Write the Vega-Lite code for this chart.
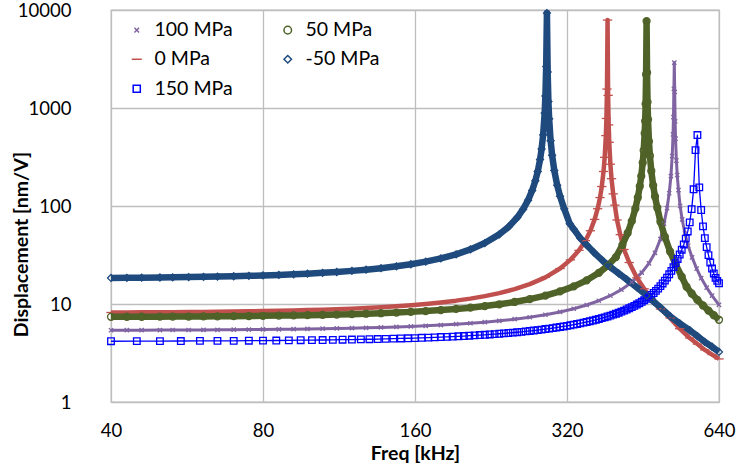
{
"$schema": "https://vega.github.io/schema/vega-lite/v6.json",
"width": 608, "height": 392,
"autosize": {"type": "none"},
"padding": {"left": 111, "top": 10, "right": 19, "bottom": 65},
"background": "white",
"data": {"values": [
{"p":"100 MPa","f":40,"d":5.4},{"p":"100 MPa","f":43,"d":5.41},{"p":"100 MPa","f":46,"d":5.41},{"p":"100 MPa","f":50,"d":5.42},{"p":"100 MPa","f":53,"d":5.43},{"p":"100 MPa","f":57,"d":5.43},{"p":"100 MPa","f":61,"d":5.44},{"p":"100 MPa","f":65,"d":5.45},{"p":"100 MPa","f":70,"d":5.47},{"p":"100 MPa","f":75,"d":5.48},{"p":"100 MPa","f":80,"d":5.5},{"p":"100 MPa","f":86,"d":5.52},{"p":"100 MPa","f":92,"d":5.54},{"p":"100 MPa","f":98,"d":5.57},{"p":"100 MPa","f":105,"d":5.6},{"p":"100 MPa","f":112,"d":5.63},{"p":"100 MPa","f":120,"d":5.67},{"p":"100 MPa","f":128,"d":5.71},{"p":"100 MPa","f":137,"d":5.77},{"p":"100 MPa","f":147,"d":5.83},{"p":"100 MPa","f":157,"d":5.9},{"p":"100 MPa","f":168,"d":5.99},{"p":"100 MPa","f":180,"d":6.09},{"p":"100 MPa","f":193,"d":6.22},{"p":"100 MPa","f":206,"d":6.36},{"p":"100 MPa","f":220,"d":6.53},{"p":"100 MPa","f":235,"d":6.73},{"p":"100 MPa","f":252,"d":7.0},{"p":"100 MPa","f":270,"d":7.33},{"p":"100 MPa","f":290,"d":7.77},{"p":"100 MPa","f":310,"d":8.3},{"p":"100 MPa","f":330,"d":8.95},{"p":"100 MPa","f":350,"d":9.76},{"p":"100 MPa","f":370,"d":10.8},{"p":"100 MPa","f":390,"d":12.15},{"p":"100 MPa","f":410,"d":14.0},{"p":"100 MPa","f":430,"d":16.7},{"p":"100 MPa","f":450,"d":20.9},{"p":"100 MPa","f":465,"d":26.0},{"p":"100 MPa","f":478,"d":33.3},{"p":"100 MPa","f":490,"d":46},{"p":"100 MPa","f":498,"d":66},{"p":"100 MPa","f":505,"d":95},{"p":"100 MPa","f":510,"d":135},{"p":"100 MPa","f":514,"d":202},{"p":"100 MPa","f":517,"d":324},{"p":"100 MPa","f":519,"d":538},{"p":"100 MPa","f":520,"d":807},{"p":"100 MPa","f":521,"d":1570},{"p":"100 MPa","f":522,"d":2900},{"p":"100 MPa","f":523,"d":1460},{"p":"100 MPa","f":524,"d":730},{"p":"100 MPa","f":525,"d":486},{"p":"100 MPa","f":527,"d":291},{"p":"100 MPa","f":529,"d":207},{"p":"100 MPa","f":532,"d":145},{"p":"100 MPa","f":536,"d":100},{"p":"100 MPa","f":541,"d":73},{"p":"100 MPa","f":548,"d":52.4},{"p":"100 MPa","f":556,"d":39.4},{"p":"100 MPa","f":566,"d":29.9},{"p":"100 MPa","f":578,"d":23},{"p":"100 MPa","f":590,"d":18.4},{"p":"100 MPa","f":605,"d":14.7},{"p":"100 MPa","f":620,"d":12.2},{"p":"100 MPa","f":640,"d":9.8},
{"p":"0 MPa","f":40,"d":8.19},{"p":"0 MPa","f":43,"d":8.2},{"p":"0 MPa","f":46,"d":8.22},{"p":"0 MPa","f":50,"d":8.24},{"p":"0 MPa","f":53,"d":8.26},{"p":"0 MPa","f":57,"d":8.28},{"p":"0 MPa","f":61,"d":8.31},{"p":"0 MPa","f":65,"d":8.34},{"p":"0 MPa","f":70,"d":8.38},{"p":"0 MPa","f":75,"d":8.42},{"p":"0 MPa","f":80,"d":8.47},{"p":"0 MPa","f":86,"d":8.53},{"p":"0 MPa","f":92,"d":8.59},{"p":"0 MPa","f":98,"d":8.66},{"p":"0 MPa","f":105,"d":8.75},{"p":"0 MPa","f":112,"d":8.85},{"p":"0 MPa","f":120,"d":8.97},{"p":"0 MPa","f":128,"d":9.11},{"p":"0 MPa","f":137,"d":9.27},{"p":"0 MPa","f":147,"d":9.48},{"p":"0 MPa","f":157,"d":9.72},{"p":"0 MPa","f":168,"d":10.0},{"p":"0 MPa","f":180,"d":10.37},{"p":"0 MPa","f":193,"d":10.82},{"p":"0 MPa","f":206,"d":11.35},{"p":"0 MPa","f":220,"d":12.03},{"p":"0 MPa","f":235,"d":12.91},{"p":"0 MPa","f":252,"d":14.17},{"p":"0 MPa","f":270,"d":15.94},{"p":"0 MPa","f":290,"d":18.72},{"p":"0 MPa","f":310,"d":23.0},{"p":"0 MPa","f":325,"d":28.2},{"p":"0 MPa","f":338,"d":35.3},{"p":"0 MPa","f":348,"d":44.3},{"p":"0 MPa","f":356,"d":55.9},{"p":"0 MPa","f":363,"d":73},{"p":"0 MPa","f":368,"d":93.8},{"p":"0 MPa","f":372,"d":122},{"p":"0 MPa","f":375,"d":158},{"p":"0 MPa","f":378,"d":225},{"p":"0 MPa","f":380,"d":314},{"p":"0 MPa","f":382,"d":523},{"p":"0 MPa","f":383,"d":782},{"p":"0 MPa","f":384,"d":1561},{"p":"0 MPa","f":385,"d":7900},{"p":"0 MPa","f":386,"d":1346},{"p":"0 MPa","f":387,"d":672},{"p":"0 MPa","f":388,"d":447},{"p":"0 MPa","f":390,"d":267},{"p":"0 MPa","f":392,"d":190},{"p":"0 MPa","f":395,"d":133},{"p":"0 MPa","f":398,"d":102},{"p":"0 MPa","f":402,"d":72},{"p":"0 MPa","f":408,"d":51},{"p":"0 MPa","f":415,"d":36},{"p":"0 MPa","f":425,"d":26.5},{"p":"0 MPa","f":440,"d":18.5},{"p":"0 MPa","f":455,"d":14.3},{"p":"0 MPa","f":470,"d":11.2},{"p":"0 MPa","f":490,"d":8.9},{"p":"0 MPa","f":512,"d":7.2},{"p":"0 MPa","f":535,"d":5.6},{"p":"0 MPa","f":560,"d":4.5},{"p":"0 MPa","f":580,"d":3.9},{"p":"0 MPa","f":600,"d":3.4},{"p":"0 MPa","f":620,"d":3.05},{"p":"0 MPa","f":640,"d":2.75},
{"p":"50 MPa","f":40,"d":7.4},{"p":"50 MPa","f":43,"d":7.41},{"p":"50 MPa","f":46,"d":7.41},{"p":"50 MPa","f":50,"d":7.43},{"p":"50 MPa","f":53,"d":7.44},{"p":"50 MPa","f":57,"d":7.45},{"p":"50 MPa","f":61,"d":7.47},{"p":"50 MPa","f":65,"d":7.49},{"p":"50 MPa","f":70,"d":7.51},{"p":"50 MPa","f":75,"d":7.54},{"p":"50 MPa","f":80,"d":7.57},{"p":"50 MPa","f":86,"d":7.61},{"p":"50 MPa","f":92,"d":7.65},{"p":"50 MPa","f":98,"d":7.69},{"p":"50 MPa","f":105,"d":7.74},{"p":"50 MPa","f":112,"d":7.8},{"p":"50 MPa","f":120,"d":7.88},{"p":"50 MPa","f":128,"d":7.96},{"p":"50 MPa","f":137,"d":8.05},{"p":"50 MPa","f":147,"d":8.17},{"p":"50 MPa","f":157,"d":8.31},{"p":"50 MPa","f":168,"d":8.47},{"p":"50 MPa","f":180,"d":8.67},{"p":"50 MPa","f":193,"d":8.91},{"p":"50 MPa","f":206,"d":9.18},{"p":"50 MPa","f":220,"d":9.52},{"p":"50 MPa","f":235,"d":9.93},{"p":"50 MPa","f":252,"d":10.49},{"p":"50 MPa","f":270,"d":11.2},{"p":"50 MPa","f":290,"d":12.18},{"p":"50 MPa","f":310,"d":13.45},{"p":"50 MPa","f":330,"d":15.13},{"p":"50 MPa","f":350,"d":17.43},{"p":"50 MPa","f":370,"d":20.79},{"p":"50 MPa","f":385,"d":24.5},{"p":"50 MPa","f":400,"d":30.1},{"p":"50 MPa","f":412,"d":40},{"p":"50 MPa","f":422,"d":53},{"p":"50 MPa","f":430,"d":70},{"p":"50 MPa","f":437,"d":94},{"p":"50 MPa","f":442,"d":122},{"p":"50 MPa","f":446,"d":159},{"p":"50 MPa","f":449,"d":202},{"p":"50 MPa","f":452,"d":277},{"p":"50 MPa","f":454,"d":368},{"p":"50 MPa","f":456,"d":551},{"p":"50 MPa","f":457,"d":735},{"p":"50 MPa","f":458,"d":1100},{"p":"50 MPa","f":459,"d":2200},{"p":"50 MPa","f":460,"d":7700},{"p":"50 MPa","f":461,"d":2300},{"p":"50 MPa","f":462,"d":1150},{"p":"50 MPa","f":463,"d":765},{"p":"50 MPa","f":465,"d":457},{"p":"50 MPa","f":467,"d":326},{"p":"50 MPa","f":470,"d":228},{"p":"50 MPa","f":474,"d":162},{"p":"50 MPa","f":478,"d":125},{"p":"50 MPa","f":483,"d":96},{"p":"50 MPa","f":490,"d":69},{"p":"50 MPa","f":500,"d":48.5},{"p":"50 MPa","f":512,"d":34.3},{"p":"50 MPa","f":525,"d":25.4},{"p":"50 MPa","f":540,"d":19.0},{"p":"50 MPa","f":552,"d":15.0},{"p":"50 MPa","f":565,"d":12.8},{"p":"50 MPa","f":580,"d":11.0},{"p":"50 MPa","f":595,"d":9.66},{"p":"50 MPa","f":610,"d":8.57},{"p":"50 MPa","f":625,"d":7.68},{"p":"50 MPa","f":640,"d":6.9},
{"p":"150 MPa","f":40,"d":4.17},{"p":"150 MPa","f":45,"d":4.18},{"p":"150 MPa","f":50,"d":4.18},{"p":"150 MPa","f":55,"d":4.19},{"p":"150 MPa","f":60,"d":4.2},{"p":"150 MPa","f":65,"d":4.2},{"p":"150 MPa","f":70,"d":4.21},{"p":"150 MPa","f":75,"d":4.22},{"p":"150 MPa","f":80,"d":4.23},{"p":"150 MPa","f":85,"d":4.24},{"p":"150 MPa","f":90,"d":4.25},{"p":"150 MPa","f":95,"d":4.27},{"p":"150 MPa","f":100,"d":4.28},{"p":"150 MPa","f":105,"d":4.29},{"p":"150 MPa","f":110,"d":4.31},{"p":"150 MPa","f":115,"d":4.32},{"p":"150 MPa","f":120,"d":4.34},{"p":"150 MPa","f":125,"d":4.35},{"p":"150 MPa","f":130,"d":4.37},{"p":"150 MPa","f":135,"d":4.39},{"p":"150 MPa","f":140,"d":4.41},{"p":"150 MPa","f":145,"d":4.43},{"p":"150 MPa","f":150,"d":4.45},{"p":"150 MPa","f":155,"d":4.47},{"p":"150 MPa","f":160,"d":4.49},{"p":"150 MPa","f":165,"d":4.52},{"p":"150 MPa","f":170,"d":4.54},{"p":"150 MPa","f":175,"d":4.57},{"p":"150 MPa","f":180,"d":4.6},{"p":"150 MPa","f":185,"d":4.62},{"p":"150 MPa","f":190,"d":4.65},{"p":"150 MPa","f":195,"d":4.68},{"p":"150 MPa","f":200,"d":4.71},{"p":"150 MPa","f":205,"d":4.75},{"p":"150 MPa","f":210,"d":4.78},{"p":"150 MPa","f":215,"d":4.82},{"p":"150 MPa","f":220,"d":4.85},{"p":"150 MPa","f":225,"d":4.89},{"p":"150 MPa","f":230,"d":4.93},{"p":"150 MPa","f":235,"d":4.97},{"p":"150 MPa","f":240,"d":5.02},{"p":"150 MPa","f":245,"d":5.06},{"p":"150 MPa","f":250,"d":5.11},{"p":"150 MPa","f":255,"d":5.15},{"p":"150 MPa","f":260,"d":5.2},{"p":"150 MPa","f":265,"d":5.25},{"p":"150 MPa","f":270,"d":5.31},{"p":"150 MPa","f":275,"d":5.36},{"p":"150 MPa","f":280,"d":5.42},{"p":"150 MPa","f":285,"d":5.48},{"p":"150 MPa","f":290,"d":5.55},{"p":"150 MPa","f":295,"d":5.61},{"p":"150 MPa","f":300,"d":5.68},{"p":"150 MPa","f":305,"d":5.75},{"p":"150 MPa","f":310,"d":5.83},{"p":"150 MPa","f":315,"d":5.9},{"p":"150 MPa","f":320,"d":5.98},{"p":"150 MPa","f":325,"d":6.07},{"p":"150 MPa","f":330,"d":6.16},{"p":"150 MPa","f":335,"d":6.25},{"p":"150 MPa","f":340,"d":6.35},{"p":"150 MPa","f":345,"d":6.45},{"p":"150 MPa","f":350,"d":6.55},{"p":"150 MPa","f":355,"d":6.66},{"p":"150 MPa","f":360,"d":6.78},{"p":"150 MPa","f":365,"d":6.9},{"p":"150 MPa","f":370,"d":7.03},{"p":"150 MPa","f":375,"d":7.17},{"p":"150 MPa","f":380,"d":7.31},{"p":"150 MPa","f":385,"d":7.46},{"p":"150 MPa","f":390,"d":7.62},{"p":"150 MPa","f":395,"d":7.79},{"p":"150 MPa","f":400,"d":7.96},{"p":"150 MPa","f":405,"d":8.15},{"p":"150 MPa","f":410,"d":8.35},{"p":"150 MPa","f":415,"d":8.57},{"p":"150 MPa","f":420,"d":8.79},{"p":"150 MPa","f":425,"d":9.04},{"p":"150 MPa","f":430,"d":9.29},{"p":"150 MPa","f":435,"d":9.57},{"p":"150 MPa","f":440,"d":9.87},{"p":"150 MPa","f":445,"d":10.19},{"p":"150 MPa","f":450,"d":10.54},{"p":"150 MPa","f":455,"d":10.91},{"p":"150 MPa","f":460,"d":11.32},{"p":"150 MPa","f":465,"d":11.8},{"p":"150 MPa","f":470,"d":12.35},{"p":"150 MPa","f":475,"d":12.95},{"p":"150 MPa","f":480,"d":13.6},{"p":"150 MPa","f":485,"d":14.35},{"p":"150 MPa","f":490,"d":15.2},{"p":"150 MPa","f":495,"d":16.2},{"p":"150 MPa","f":500,"d":17.3},{"p":"150 MPa","f":505,"d":18.6},{"p":"150 MPa","f":510,"d":20.1},{"p":"150 MPa","f":515,"d":21.8},{"p":"150 MPa","f":520,"d":23.8},{"p":"150 MPa","f":525,"d":26.1},{"p":"150 MPa","f":530,"d":28.8},{"p":"150 MPa","f":535,"d":32},{"p":"150 MPa","f":540,"d":35.8},{"p":"150 MPa","f":545,"d":40.5},{"p":"150 MPa","f":550,"d":46.5},{"p":"150 MPa","f":555,"d":55},{"p":"150 MPa","f":560,"d":68},{"p":"150 MPa","f":565,"d":93},{"p":"150 MPa","f":570,"d":148},{"p":"150 MPa","f":575,"d":372},{"p":"150 MPa","f":580,"d":530},{"p":"150 MPa","f":585,"d":155},{"p":"150 MPa","f":590,"d":91},{"p":"150 MPa","f":595,"d":62},{"p":"150 MPa","f":600,"d":47},{"p":"150 MPa","f":605,"d":38},{"p":"150 MPa","f":610,"d":31.5},{"p":"150 MPa","f":615,"d":26.5},{"p":"150 MPa","f":620,"d":23},{"p":"150 MPa","f":625,"d":20.5},{"p":"150 MPa","f":630,"d":18.5},{"p":"150 MPa","f":635,"d":17.2},{"p":"150 MPa","f":640,"d":16.3},
{"p":"-50 MPa","f":40,"d":18.45},{"p":"-50 MPa","f":43,"d":18.5},{"p":"-50 MPa","f":46,"d":18.56},{"p":"-50 MPa","f":50,"d":18.65},{"p":"-50 MPa","f":53,"d":18.72},{"p":"-50 MPa","f":57,"d":18.82},{"p":"-50 MPa","f":61,"d":18.93},{"p":"-50 MPa","f":65,"d":19.04},{"p":"-50 MPa","f":70,"d":19.2},{"p":"-50 MPa","f":75,"d":19.38},{"p":"-50 MPa","f":80,"d":19.57},{"p":"-50 MPa","f":86,"d":19.82},{"p":"-50 MPa","f":92,"d":20.09},{"p":"-50 MPa","f":98,"d":20.4},{"p":"-50 MPa","f":105,"d":20.79},{"p":"-50 MPa","f":112,"d":21.22},{"p":"-50 MPa","f":120,"d":21.78},{"p":"-50 MPa","f":128,"d":22.41},{"p":"-50 MPa","f":137,"d":23.21},{"p":"-50 MPa","f":147,"d":24.24},{"p":"-50 MPa","f":157,"d":25.46},{"p":"-50 MPa","f":168,"d":27.06},{"p":"-50 MPa","f":180,"d":29.19},{"p":"-50 MPa","f":193,"d":32.14},{"p":"-50 MPa","f":206,"d":36.03},{"p":"-50 MPa","f":220,"d":41.86},{"p":"-50 MPa","f":235,"d":51.38},{"p":"-50 MPa","f":245,"d":61.1},{"p":"-50 MPa","f":255,"d":76.2},{"p":"-50 MPa","f":262,"d":92.9},{"p":"-50 MPa","f":268,"d":114.8},{"p":"-50 MPa","f":273,"d":143.8},{"p":"-50 MPa","f":277,"d":180.8},{"p":"-50 MPa","f":280,"d":224.8},{"p":"-50 MPa","f":283,"d":298},{"p":"-50 MPa","f":285,"d":382},{"p":"-50 MPa","f":287,"d":532},{"p":"-50 MPa","f":289,"d":887},{"p":"-50 MPa","f":290,"d":1326},{"p":"-50 MPa","f":291,"d":2646},{"p":"-50 MPa","f":292,"d":9300},{"p":"-50 MPa","f":293,"d":2332},{"p":"-50 MPa","f":294,"d":1164},{"p":"-50 MPa","f":295,"d":775},{"p":"-50 MPa","f":297,"d":463},{"p":"-50 MPa","f":299,"d":330},{"p":"-50 MPa","f":302,"d":230},{"p":"-50 MPa","f":306,"d":163},{"p":"-50 MPa","f":310,"d":126},{"p":"-50 MPa","f":316,"d":93.5},{"p":"-50 MPa","f":324,"d":66},{"p":"-50 MPa","f":330,"d":58},{"p":"-50 MPa","f":340,"d":47},{"p":"-50 MPa","f":350,"d":40},{"p":"-50 MPa","f":362,"d":33.5},{"p":"-50 MPa","f":377,"d":27.5},{"p":"-50 MPa","f":390,"d":23.8},{"p":"-50 MPa","f":405,"d":20.5},{"p":"-50 MPa","f":420,"d":17.8},{"p":"-50 MPa","f":440,"d":14.8},{"p":"-50 MPa","f":460,"d":12.2},{"p":"-50 MPa","f":475,"d":10.6},{"p":"-50 MPa","f":490,"d":9.2},{"p":"-50 MPa","f":512,"d":7.5},{"p":"-50 MPa","f":535,"d":6.35},{"p":"-50 MPa","f":560,"d":5.4},{"p":"-50 MPa","f":580,"d":4.7},{"p":"-50 MPa","f":600,"d":4.1},{"p":"-50 MPa","f":620,"d":3.66},{"p":"-50 MPa","f":640,"d":3.24}
]},
"encoding": {
  "x": {"field": "f", "type": "quantitative",
        "scale": {"type": "log", "base": 2, "domain": [40, 640], "nice": false},
        "axis": {"values": [40, 80, 160, 320, 640], "format": "d", "labelPadding": 19, "title": "Freq [kHz]", "titleY": 57, "titleBaseline": "alphabetic"}},
  "y": {"field": "d", "type": "quantitative",
        "scale": {"type": "log", "domain": [1, 10000], "nice": false},
        "axis": {"values": [1, 10, 100, 1000, 10000], "format": "d", "labelPadding": 40, "title": "Displacement [nm/V]",
                 "titleX": -90, "titleY": 234, "titleAngle": 270, "titleAlign": "center", "titleBaseline": "middle"}},
  "color": {"field": "p", "type": "nominal",
            "scale": {"domain": ["100 MPa", "0 MPa", "150 MPa", "50 MPa", "-50 MPa"],
                      "range": ["#8064A2", "#C0504D", "#0000FF", "#4F6228", "#1F4A7E"]},
            "legend": {"title": null, "orient": "none", "legendX": 16, "legendY": 10, "columns": 2, "columnPadding": 45, "rowPadding": 8.5,
                       "symbolSize": 70, "symbolStrokeWidth": 1.5, "labelFont": "Lato", "labelFontSize": 19.5, "labelColor": "#000", "labelOffset": 8, "padding": 0}}
},
"layer": [
  {"transform": [{"filter": "datum.p === '100 MPa'"}], "mark": {"type": "line", "strokeWidth": 3, "strokeJoin": "round"}, "encoding": {}},
  {"transform": [{"filter": "datum.p === '0 MPa'"}], "mark": {"type": "line", "strokeWidth": 4.5, "strokeJoin": "round"}, "encoding": {}},
  {"transform": [{"filter": "datum.p === '50 MPa'"}], "mark": {"type": "line", "strokeWidth": 6.5, "strokeJoin": "round"}, "encoding": {}},
  {"transform": [{"filter": "datum.p === '150 MPa'"}], "mark": {"type": "line", "strokeWidth": 1.3, "strokeJoin": "round"}, "encoding": {}},
  {"transform": [{"filter": "datum.p === '-50 MPa'"}], "mark": {"type": "line", "strokeWidth": 6.5, "strokeJoin": "round"}, "encoding": {}},
  {"mark": {"type": "point", "filled": false, "size": 60, "strokeWidth": 1.3, "opacity": 1},
   "encoding": {"shape": {"field": "p", "type": "nominal",
                "scale": {"domain": ["100 MPa", "0 MPa", "150 MPa", "50 MPa", "-50 MPa"],
                          "range": ["M-0.55,-0.55L0.55,0.55M-0.55,0.55L0.55,-0.55", "M-1.2,0H1.2", "M-0.85,-0.85H0.85V0.85H-0.85Z", "M-0.9,0A0.9,0.9 0 1,0 0.9,0A0.9,0.9 0 1,0 -0.9,0Z", "M-0.9,0L0,-0.9L0.9,0L0,0.9Z"]},
                "legend": {"title": null, "orient": "none", "legendX": 16, "legendY": 10, "columns": 2, "columnPadding": 45, "rowPadding": 8.5,
                       "symbolSize": 70, "symbolStrokeWidth": 1.5, "labelFont": "Lato", "labelFontSize": 19.5, "labelColor": "#000", "labelOffset": 8, "padding": 0}}}}
],
"config": {
  "font": "Lato",
  "view": {"stroke": "#BEBEBE", "strokeWidth": 1.3},
  "axis": {"labelFont": "Lato", "labelFontSize": 18.5, "labelColor": "#000", "titleFont": "Lato", "titleFontSize": 19.5, "titleFontWeight": "bold", "titleColor": "#000",
           "gridColor": "#BEBEBE", "gridWidth": 1.3, "gridOpacity": 1, "domain": false, "ticks": false, "tickSize": 0, "labelFlush": false, "labelOverlap": false}
}
}
